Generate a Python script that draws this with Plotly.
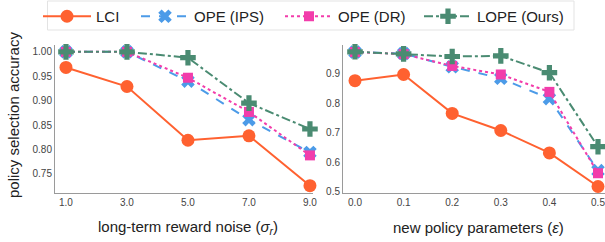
import plotly.graph_objects as go

W, H = 605, 242

methods = ["LCI", "OPE (IPS)", "OPE (DR)", "LOPE (Ours)"]

noise_levels = [1.0, 3.0, 5.0, 7.0, 9.0]
noise_lci = [0.968, 0.929, 0.819, 0.828, 0.726]
noise_ips = [1.000, 1.000, 0.940, 0.861, 0.794]
noise_dr = [1.000, 1.000, 0.947, 0.877, 0.788]
noise_lope = [1.000, 1.000, 0.988, 0.895, 0.842]

eps_levels = [0.0, 0.1, 0.2, 0.3, 0.4, 0.5]
eps_lci = [0.876, 0.897, 0.765, 0.707, 0.631, 0.517]
eps_ips = [0.973, 0.968, 0.923, 0.884, 0.815, 0.571]
eps_dr = [0.973, 0.966, 0.926, 0.897, 0.838, 0.562]
eps_lope = [0.974, 0.967, 0.958, 0.960, 0.903, 0.652]

y_ticks_left = [0.75, 0.80, 0.85, 0.90, 0.95, 1.00]
y_ticks_right = [0.5, 0.6, 0.7, 0.8, 0.9]

styles = [
    dict(color="#FF6130", dash="solid", symbol="circle", size=13),
    dict(color="#4C9BE8", dash="dash", symbol="x", size=12),
    dict(color="#F23DAB", dash="dot", symbol="square", size=10),
    dict(color="#4A8B72", dash="dashdot", symbol="cross", size=13),
]

left_series = [noise_lci, noise_ips, noise_dr, noise_lope]
right_series = [eps_lci, eps_ips, eps_dr, eps_lope]

fig = go.Figure()
legend_ids = ["legend", "legend2", "legend3", "legend4"]
for i, (name, st) in enumerate(zip(methods, styles)):
    fig.add_trace(go.Scatter(
        x=noise_levels, y=left_series[i], name=name, mode="lines+markers",
        line=dict(color=st["color"], dash=st["dash"], width=2),
        marker=dict(symbol=st["symbol"], size=st["size"], color=st["color"], line=dict(width=0)),
        xaxis="x", yaxis="y", cliponaxis=False, legend=legend_ids[i], showlegend=True,
    ))
    fig.add_trace(go.Scatter(
        x=eps_levels, y=right_series[i], name=name, mode="lines+markers",
        line=dict(color=st["color"], dash=st["dash"], width=2),
        marker=dict(symbol=st["symbol"], size=st["size"], color=st["color"], line=dict(width=0)),
        xaxis="x2", yaxis="y2", cliponaxis=False, showlegend=False,
    ))

def px_x(p):
    return p / W

def px_y(p):
    return 1 - p / H

axis_common = dict(showgrid=False, zeroline=False, showline=True, linecolor="#9a9a9a", linewidth=1,
                   ticks="", automargin=False, ticklabeloverflow="allow",
                   tickfont=dict(family="Liberation Sans, Arial", size=10, color="#444"))

legend_x = [38, 136, 280, 419]
layout_legends = {}
for lid, lx in zip(legend_ids, legend_x):
    layout_legends[lid] = dict(
        x=px_x(lx), y=px_y(0), xanchor="left", yanchor="top", orientation="h",
        bgcolor="rgba(0,0,0,0)", borderwidth=0, itemwidth=48,
        font=dict(family="Liberation Sans, Arial", size=15, color="#222"),
    )

fig.update_layout(
    width=W, height=H, margin=dict(l=0, r=0, t=0, b=0, autoexpand=False),
    paper_bgcolor="white", plot_bgcolor="white",
    font=dict(family="Liberation Sans, Arial", color="#222"),
    xaxis=dict(domain=[px_x(55), px_x(313)], range=[0.64, 9.1], tickvals=noise_levels,
               tickformat=".1f", anchor="y", **axis_common),
    yaxis=dict(domain=[px_y(193), px_y(45)], range=[0.711, 1.014], tickvals=y_ticks_left,
               tickformat=".2f", anchor="x", **axis_common),
    xaxis2=dict(domain=[px_x(343), 1.0], range=[-0.0247, 0.5144], tickvals=eps_levels,
                tickformat=".1f", anchor="y2", **axis_common),
    yaxis2=dict(domain=[px_y(193), px_y(45)], range=[0.495, 0.997], tickvals=y_ticks_right,
                tickformat=".1f", anchor="x2", **axis_common),
    **layout_legends,
    shapes=[dict(type="rect", xref="paper", yref="paper", x0=px_x(47.5), x1=px_x(574),
                 y0=px_y(30), y1=px_y(1), line=dict(color="#e3e3e3", width=1), layer="below")],
    annotations=[
        dict(text="long-term reward noise (<i>σ<sub>r</sub></i>)", x=px_x(188), y=px_y(227),
             xref="paper", yref="paper", showarrow=False, xanchor="center", yanchor="middle",
             font=dict(size=15, color="#222")),
        dict(text="new policy parameters (<i>ε</i>)", x=px_x(478), y=px_y(227),
             xref="paper", yref="paper", showarrow=False, xanchor="center", yanchor="middle",
             font=dict(size=15, color="#222")),
        dict(text="policy selection accuracy", x=px_x(13), y=px_y(115), textangle=-90,
             xref="paper", yref="paper", showarrow=False, xanchor="center", yanchor="middle",
             font=dict(size=15, color="#222")),
    ],
)

fig.write_html("out.html", config={"displayModeBar": False},
               post_script="document.body.style.margin='0px';document.body.style.overflow='hidden';")
